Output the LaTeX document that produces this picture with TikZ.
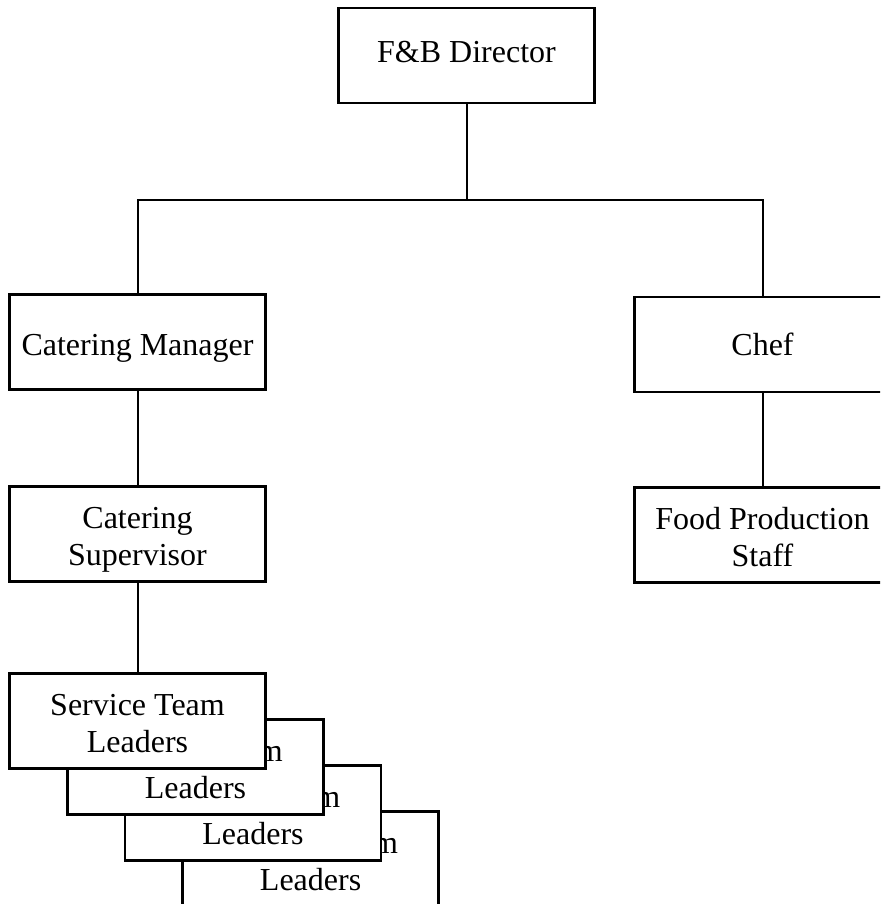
\documentclass[tikz,border=0pt]{standalone}
\usepackage{fontspec}
\setmainfont{Liberation Serif}
\begin{document}
\begin{tikzpicture}[x=1pt,y=-1pt,
  box/.style={draw=black,line width=2.4pt,fill=white,rectangle,
    minimum width=256pt,minimum height=95pt,inner sep=0pt,outer sep=0pt,
    align=center,font=\fontsize{32pt}{37pt}\selectfont},
  twoline/.style={text height=63pt,text depth=0pt},
  conn/.style={draw=black,line width=2pt}]
\useasboundingbox (0,0) rectangle (880,904);
\clip (0,0) rectangle (880,904);
\node[box,text height=15pt,text depth=0pt] (dir) at (466.5,55.5) {F\&B Director};
\node[box,text height=26pt,text depth=0pt] (cm) at (137.5,342) {Catering Manager};
\node[box,text height=21pt,text depth=0pt] (chef) at (762.5,344.5) {Chef};
\node[box,twoline] (cs) at (137.5,534) {Catering\\Supervisor};
\node[box,twoline] (fps) at (762.5,535) {Food Production\\Staff};
\node[box,twoline] (st4) at (310.6,859) {Service Team\\Leaders};
\node[box,twoline] (st3) at (253,813) {Service Team\\Leaders};
\node[box,twoline] (st2) at (195.5,767) {Service Team\\Leaders};
\node[box,twoline] (st1) at (137.5,721) {Service Team\\Leaders};
\coordinate (j) at (466.5,200);
\draw[conn] (dir.south) -- (j);
\draw[conn] (cm.north) |- (j) -| (chef.north);
\draw[conn] (cm.south) -- (cs.north);
\draw[conn] (chef.south) -- (fps.north);
\draw[conn] (cs.south) -- (st1.north);
\end{tikzpicture}
\end{document}
